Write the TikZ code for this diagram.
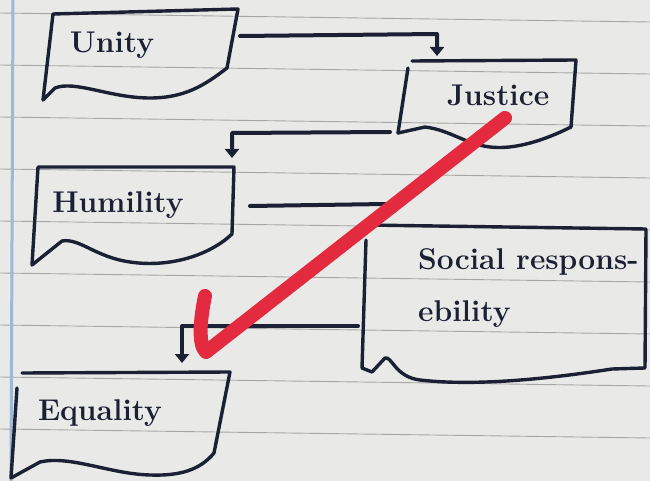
\documentclass[tikz,border=0pt]{standalone}
\usetikzlibrary{arrows.meta}
\definecolor{paper}{HTML}{E9E9E7}
\definecolor{rule}{HTML}{8A8A8A}
\definecolor{margin}{HTML}{9DB8D8}
\definecolor{ink}{HTML}{1B2035}
\definecolor{redmark}{HTML}{E42A3E}
\tikzset{
  ink/.style={draw=ink, line width=3.4pt, line cap=round, line join=round},
  conn/.style={ink, line width=4pt},
  arr/.style={ink, line width=4pt, -{Triangle[width=14pt,length=9pt]}},
  lbl/.style={text=ink, font=\fontsize{30}{52}\selectfont\bfseries, inner sep=0pt, align=left},
  paperline/.style={draw=rule, line width=0.9pt, opacity=0.7},
  check/.style={draw=redmark, line width=14pt, line cap=round, line join=round}
}
\begin{document}
\begin{tikzpicture}[x=1pt,y=-1pt]
\useasboundingbox (0,0) rectangle (650,481);
\fill[paper] (0,0) rectangle (650,481);
% ruled paper
\foreach \yy in {13,65,117,169,221,273,325,377,429} {
  \draw[paperline] (0,\yy) -- (650,\yy+9);
}
\draw[draw=margin, line width=3pt] (13,0) -- (11,481);

% box shapes
\draw[ink] (53,14) -- (238,9) -- (227,68) .. controls (205,85) and (185,98) .. (150,98)
  .. controls (110,98) and (75,80) .. (55,88) -- (43,100) -- cycle;
\draw[ink] (408,68) -- (398,133);
\draw[ink] (412,61) -- (576,60) -- (571,127) .. controls (545,140) and (515,150) .. (490,147)
  .. controls (465,144) and (450,130) .. (425,127) -- (398,133);
\draw[ink] (38,167) -- (234,167) -- (232,234) .. controls (210,255) and (170,268) .. (130,262)
  .. controls (95,257) and (80,238) .. (62,241) -- (32,265) -- (38,167);
\draw[ink] (366,225) -- (646,229) -- (645,368) -- (612,369) .. controls (560,377) and (480,387) .. (420,380)
  .. controls (395,377) and (392,356) .. (385,358) -- (372,372) -- (362,368) -- (366,240);
\draw[ink] (22,373) -- (230,372) -- (214,453) .. controls (200,470) and (180,476) .. (150,475)
  .. controls (110,474) and (70,455) .. (40,462) -- (11,478) -- (17,388);

% labels
\node[lbl] (unity) at (112,45) {Unity};
\node[lbl] (justice) at (498,95) {Justice};
\node[lbl] (humility) at (118,205) {Humility};
\node[lbl, anchor=north west] (social) at (418,248) {Social respons-\\ebility};
\node[lbl] (equality) at (100,413) {Equality};

% connector end points
\coordinate (uOut) at (240,36);
\coordinate (uBend) at (437,34);
\coordinate (jIn) at (437,56);
\coordinate (jOut) at (390,132);
\coordinate (jBend) at (232,133);
\coordinate (hIn) at (232,158);
\coordinate (hOut) at (250,206);
\coordinate (sTop) at (386,204);
\coordinate (sOut) at (358,326);
\coordinate (sBend) at (182,326);
\coordinate (eIn) at (182,363);

\draw[arr] (uOut) -- (uBend) -- (jIn);
\draw[arr] (jOut) -- (jBend) -- (hIn);
\draw[conn] (hOut) -- (sTop);
\draw[arr] (sOut) -- (sBend) -- (eIn);

% red check mark
\coordinate (ckTop) at (505,118);
\coordinate (ckLow) at (206,352);
\coordinate (ckStart) at (205,296);
\draw[check] (ckStart) .. controls (200,320) and (198,345) .. (ckLow) -- (ckTop);
\end{tikzpicture}
\end{document}
